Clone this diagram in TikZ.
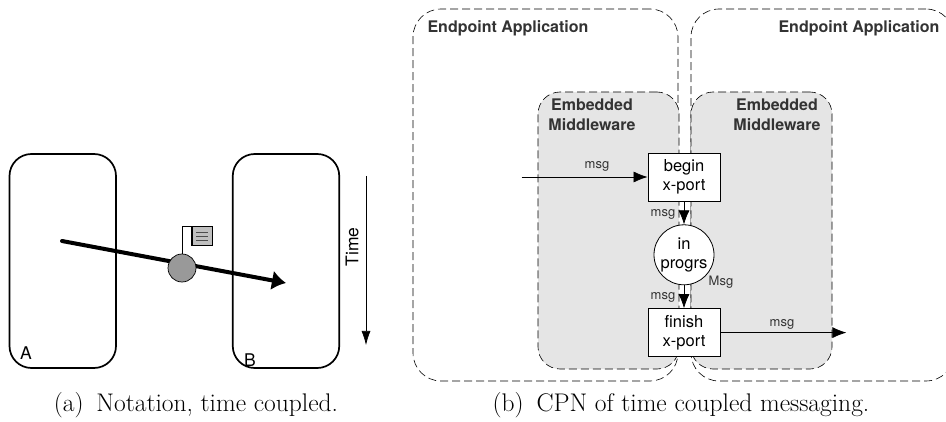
\documentclass[tikz,border=0pt]{standalone}
\usepackage{fontspec}
\setsansfont{TeX Gyre Heros}
\usepackage{tikz}
\usetikzlibrary{arrows.meta,positioning}
\usepackage{xcolor}
\definecolor{mwgray}{gray}{0.9}
\definecolor{tokgray}{gray}{0.6}
\definecolor{tagray}{gray}{0.75}
\definecolor{txgray}{gray}{0.2}
\begin{document}
\begin{tikzpicture}[x=1pt,y=-1pt,
    party/.style={rectangle,draw,line width=1.7pt,rounded corners=22pt,minimum width=106.5pt,minimum height=214pt,inner sep=0pt},
    app/.style={rectangle,draw=black,dash pattern=on 8pt off 4pt,line width=.6pt,rounded corners=28pt,inner sep=0pt},
    mw/.style={rectangle,draw=black,fill=mwgray,dash pattern=on 8pt off 4pt,line width=.6pt,rounded corners=22pt,inner sep=0pt},
    trans/.style={rectangle,draw,fill=white,line width=.8pt,minimum width=72pt,minimum height=48pt,align=center,inner sep=0pt,font=\sffamily\fontsize{16.5}{19.5}\selectfont},
    place/.style={circle,draw,fill=white,line width=.8pt,minimum size=60pt,align=center,inner sep=0pt,font=\sffamily\fontsize{16.5}{19.5}\selectfont},
    lbl/.style={inner sep=0pt,text=txgray,font=\sffamily\fontsize{13}{15}\selectfont},
    title/.style={inner sep=0pt,text=txgray,align=center,font=\sffamily\bfseries\fontsize{16}{20}\selectfont},
    side/.style={inner sep=0pt,font=\sffamily\fontsize{17.5}{20}\selectfont},
    capt/.style={inner sep=0pt,font=\fontsize{25.5}{28}\selectfont},
    flow/.style={-{Latex[length=14pt,width=11pt]},line width=.7pt}]
    \useasboundingbox (0,0) rectangle (946,422);
    % (a) notation
    \node(a)[party] at (62.75,261)   {};
    \node(b)[party] at (286,261)   {};
    \node(al)[side] at (26,353)   {A};
    \node(bl)[side] at (250,360)   {B};
    \coordinate(src) at (62,241);
    \coordinate(dst) at (286,283);
    \draw [-{Latex[length=14pt,width=20pt]},line width=4pt,line cap=round] (src)--(dst);
    \node(tok)[circle,draw,fill=tokgray,minimum size=28pt,inner sep=0pt,line width=.7pt] at (182,268)   {};
    \node(tag)[rectangle,draw,fill=tagray,minimum width=20pt,minimum height=18.5pt,inner sep=0pt,line width=.7pt] at (202,236)   {};
    \draw [line width=.7pt] (tok.north)|-(tag.north west);
    \draw [line width=2pt] (tag.north west)--(tag.south west);
    \foreach \i in {-4,0,4}
        \draw [line width=.9pt,black!70] ([xshift=-6pt,yshift=\i pt]tag.center)--([xshift=6pt,yshift=\i pt]tag.center);
    \coordinate(ts) at (366,176);
    \coordinate(te) at (366,345);
    \draw [-{Latex[length=14pt,width=9pt]},line width=.7pt] (ts)--(te);
    \node(time)[side,rotate=90] at (352,247)   {Time};
    \node(capa)[capt] at (196,405)   {(a)\enskip Notation, time coupled.};
    % (b) cpn
    \node(appl)[app,minimum width=265pt,minimum height=372pt] at (545.5,195)   {};
    \node(appr)[app,minimum width=263pt,minimum height=372pt] at (822.5,195)   {};
    \node(mwl)[mw,minimum width=141pt,minimum height=277pt] at (608.5,230.5)   {};
    \node(mwr)[mw,minimum width=141pt,minimum height=277pt] at (761.5,230.5)   {};
    \node(tappl)[title] at (508,28)   {Endpoint Application};
    \node(tappr)[title] at (859,28)   {Endpoint Application};
    \node(tmwl)[title] at (592,115)   {Embedded\\Middleware};
    \node(tmwr)[title] at (777,115)   {Embedded\\Middleware};
    \node(begin)[trans] at (684,177)   {begin\\x-port};
    \node(prog)[place,below=23pt of begin]   {in\\progrs};
    \node(finish)[trans,below=23pt of prog]   {finish\\x-port};
    \coordinate(in) at ([xshift=-126pt]begin.west);
    \coordinate(out) at ([xshift=126pt]finish.east);
    \draw [flow] (in)--(begin);
    \draw [flow] (begin)--(prog);
    \draw [flow] (prog)--(finish);
    \draw [flow] (finish)--(out);
    \node(m1)[lbl] at (597,166)   {msg};
    \node(m2)[lbl] at (663,214)   {msg};
    \node(m3)[lbl] at (663,297)   {msg};
    \node(m4)[lbl] at (782,324)   {msg};
    \node(m5)[lbl] at (721,282)   {Msg};
    \node(capb)[capt] at (681,405)   {(b)\enskip CPN of time coupled messaging.};
\end{tikzpicture}
\end{document}
